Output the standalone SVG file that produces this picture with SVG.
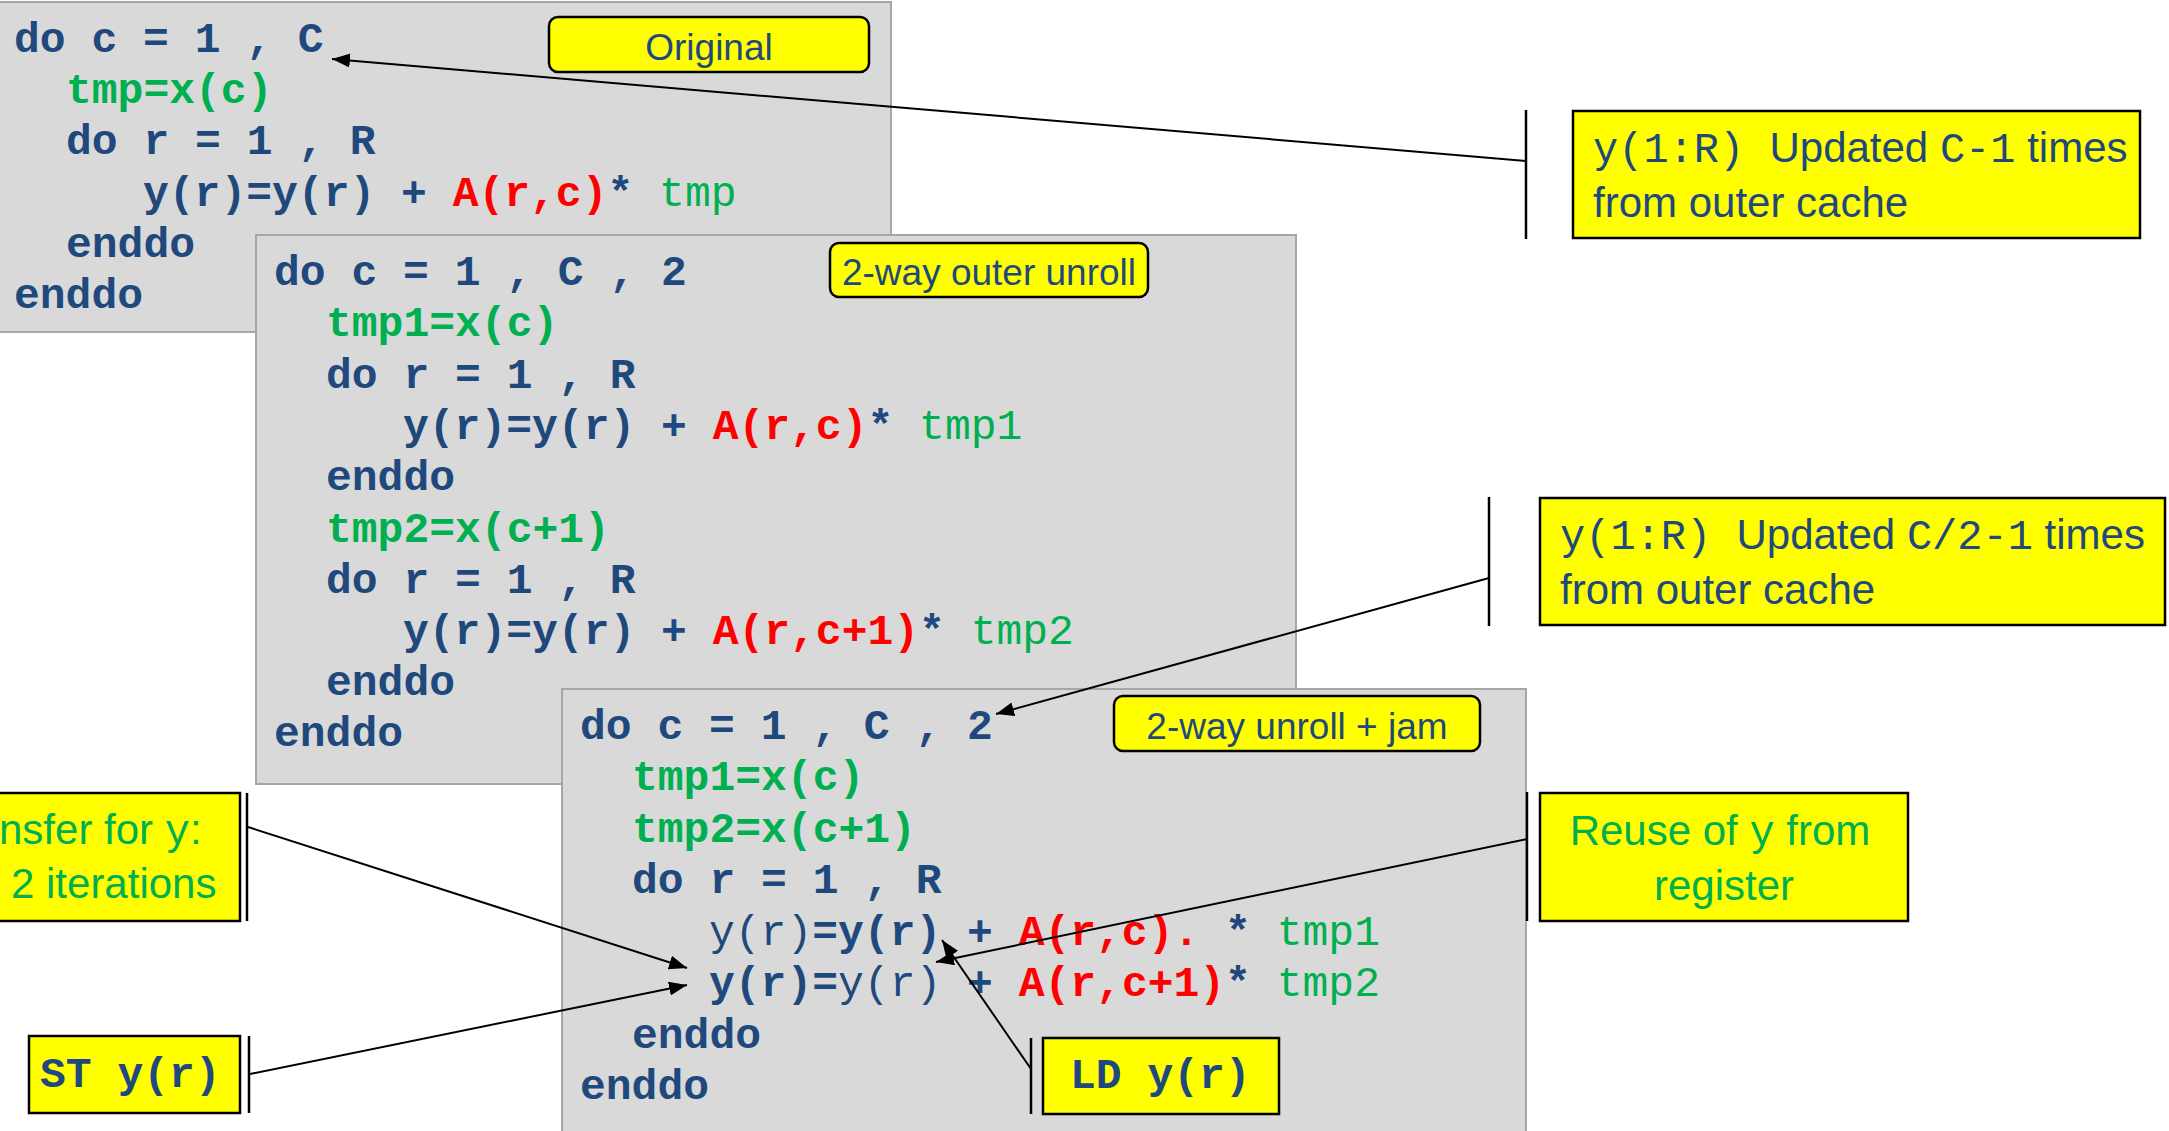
<svg xmlns="http://www.w3.org/2000/svg" width="2169" height="1131" viewBox="0 0 2169 1131">
<style>
.panel{fill:#D9D9D9;stroke:#A6A6A6;stroke-width:2}
.code{font-family:"Liberation Mono","Courier New",monospace;font-size:43px;font-weight:bold;fill:#1F497D}
.g{fill:#00B050}
.r{fill:#FF0000}
.n{font-weight:normal}
.tag{fill:#FFFF00;stroke:#000;stroke-width:2.5}
.box{fill:#FFFF00;stroke:#000;stroke-width:2.5}
.bar{stroke:#000;stroke-width:2.5}
.lbl{font-family:"Liberation Sans",Arial,sans-serif;font-size:37px;fill:#1F497D;text-anchor:middle}
.note{font-family:"Liberation Sans",Arial,sans-serif;font-size:42px;fill:#1F497D}
.gn{fill:#00B050}
.mono{font-family:"Liberation Mono","Courier New",monospace;font-weight:normal}
.conn{stroke:#000;stroke-width:2;fill:none;marker-end:url(#ah)}
</style>
<defs>
<marker id="ah" markerWidth="20" markerHeight="16" refX="18" refY="7" orient="auto" markerUnits="userSpaceOnUse"><path d="M0,0 L18,7 L0,14 z" fill="#000"/></marker>
</defs>
<rect width="2169" height="1131" fill="#fff"/>

<g id="panel-original">
<rect class="panel" x="-2" y="2" width="893" height="330"/>
<text class="code" x="14" y="52">do c = 1 , C</text>
<text class="code g" x="66" y="103">tmp=x(c)</text>
<text class="code" x="66" y="154">do r = 1 , R</text>
<text class="code" x="143" y="206">y(r)=y(r) + <tspan class="r">A(r,c)</tspan>* <tspan class="g n">tmp</tspan></text>
<text class="code" x="66" y="257">enddo</text>
<text class="code" x="14" y="308">enddo</text>
<g id="tag-original"><rect class="tag" x="549" y="17" width="320" height="55" rx="9"/><text class="lbl" x="709" y="60">Original</text></g>
</g>

<g id="panel-outer-unroll">
<rect class="panel" x="256" y="235" width="1040" height="549"/>
<text class="code" x="274" y="285">do c = 1 , C , 2</text>
<text class="code g" x="326" y="336">tmp1=x(c)</text>
<text class="code" x="326" y="388">do r = 1 , R</text>
<text class="code" x="403" y="439">y(r)=y(r) + <tspan class="r">A(r,c)</tspan>* <tspan class="g n">tmp1</tspan></text>
<text class="code" x="326" y="490">enddo</text>
<text class="code g" x="326" y="542">tmp2=x(c+1)</text>
<text class="code" x="326" y="593">do r = 1 , R</text>
<text class="code" x="403" y="644">y(r)=y(r) + <tspan class="r">A(r,c+1)</tspan>* <tspan class="g n">tmp2</tspan></text>
<text class="code" x="326" y="695">enddo</text>
<text class="code" x="274" y="746">enddo</text>
<g id="tag-outer-unroll"><rect class="tag" x="830" y="243" width="318" height="54" rx="9"/><text class="lbl" x="989" y="285">2-way outer unroll</text></g>
</g>

<g id="panel-unroll-jam">
<rect class="panel" x="562" y="689" width="964" height="460"/>
<text class="code" x="580" y="739">do c = 1 , C , 2</text>
<text class="code g" x="632" y="790">tmp1=x(c)</text>
<text class="code g" x="632" y="842">tmp2=x(c+1)</text>
<text class="code" x="632" y="893">do r = 1 , R</text>
<text class="code" x="709" y="945"><tspan class="n">y(r)</tspan>=y(r) + <tspan class="r">A(r,c).</tspan> * <tspan class="g n">tmp1</tspan></text>
<text class="code" x="709" y="996">y(r)=<tspan class="n">y(r)</tspan> + <tspan class="r">A(r,c+1)</tspan>* <tspan class="g n">tmp2</tspan></text>
<text class="code" x="632" y="1048">enddo</text>
<text class="code" x="580" y="1099">enddo</text>
<g id="tag-unroll-jam"><rect class="tag" x="1114" y="696" width="366" height="55" rx="9"/><text class="lbl" x="1297" y="739">2-way unroll + jam</text></g>
</g>

<g id="note-original">
<line class="bar" x1="1526" y1="110" x2="1526" y2="239"/>
<rect class="box" x="1573" y="111" width="567" height="127"/>
<text class="note" x="1593" y="162" font-size="42.5"><tspan class="mono">y(1:R) </tspan>Updated <tspan class="mono">C-1</tspan> times</text>
<text class="note" x="1593" y="217">from outer cache</text>
</g>

<g id="note-outer-unroll">
<line class="bar" x1="1489" y1="497" x2="1489" y2="626"/>
<rect class="box" x="1540" y="498" width="625" height="127"/>
<text class="note" x="1560" y="549" font-size="42.5"><tspan class="mono">y(1:R) </tspan>Updated <tspan class="mono">C/2-1</tspan> times</text>
<text class="note" x="1560" y="604">from outer cache</text>
</g>

<g id="note-reuse">
<line class="bar" x1="1527" y1="792" x2="1527" y2="921"/>
<rect class="box" x="1540" y="793" width="368" height="128"/>
<text class="note gn" x="1720" y="845" text-anchor="middle">Reuse of <tspan class="mono">y</tspan> from</text>
<text class="note gn" x="1724" y="900" text-anchor="middle">register</text>
</g>

<g id="note-transfer">
<line class="bar" x1="247" y1="793" x2="247" y2="921"/>
<rect class="box" x="-10" y="793" width="250" height="128"/>
<text class="note gn" x="-1" y="844">nsfer for <tspan class="mono">y</tspan>:</text>
<text class="note gn" x="11" y="898">2 iterations</text>
</g>

<g id="note-st">
<line class="bar" x1="249" y1="1036" x2="249" y2="1113"/>
<rect class="box" x="29" y="1036" width="211" height="77"/>
<text class="code" x="40" y="1087">ST y(r)</text>
</g>

<g id="note-ld">
<line class="bar" x1="1031" y1="1038" x2="1031" y2="1114"/>
<rect class="box" x="1043" y="1038" width="236" height="76"/>
<text class="code" x="1070" y="1088">LD y(r)</text>
</g>

<g id="connectors">
<line class="conn" x1="1526" y1="161" x2="332" y2="59"/>
<line class="conn" x1="1489" y1="578" x2="996" y2="714"/>
<line class="conn" x1="1527" y1="839" x2="936" y2="962"/>
<line class="conn" x1="1031" y1="1069" x2="942" y2="940"/>
<line class="conn" x1="248" y1="827" x2="687" y2="968"/>
<line class="conn" x1="250" y1="1074" x2="687" y2="985"/>
</g>
</svg>
